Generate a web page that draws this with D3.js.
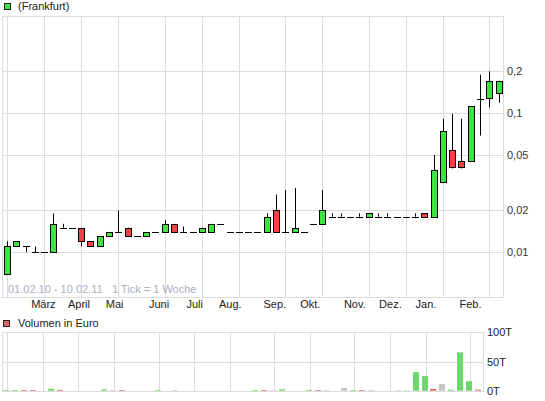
<!DOCTYPE html>
<html lang="de">
<head>
	<meta charset="UTF-8">
	<title>Frankfurt Wochenchart</title>

	<script type="text/javascript" src="https://cdn.jsdelivr.net/npm/d3@7/dist/d3.min.js"></script>

	<style>
		body {
			margin: 0;
			background: #fff;
		}

		svg text {
			font-family: "Liberation Sans", Arial, sans-serif;
			font-size: 11px;
		}
	</style>
</head>
<body>

<div id="viz"></div>

<script type="text/javascript">
	// weekly candles 01.02.10 - 10.02.11, one entry per week
	var open = [0.007, 0.011, 0.011, 0.010, 0.010, 0.010, 0.015, 0.015, 0.015, 0.012,
		0.011, 0.013, 0.014, 0.015, 0.013, 0.013, 0.014, 0.014, 0.016, 0.014,
		0.014, 0.014, 0.014, 0.016, 0.014, 0.014, 0.014, 0.014, 0.014, 0.020,
		0.014, 0.014, 0.014, 0.016, 0.016, 0.018, 0.018, 0.018, 0.018, 0.018,
		0.018, 0.018, 0.018, 0.018, 0.018, 0.019, 0.018, 0.032, 0.054, 0.045,
		0.045, 0.126, 0.128, 0.139];
	var high = [0.012, 0.012, 0.011, 0.011, 0.010, 0.019, 0.016, 0.015, 0.015, 0.012,
		0.013, 0.014, 0.020, 0.015, 0.013, 0.014, 0.014, 0.017, 0.016, 0.0153,
		0.014, 0.015, 0.016, 0.016, 0.014, 0.014, 0.014, 0.014, 0.019, 0.026,
		0.028, 0.029, 0.014, 0.016, 0.028, 0.019, 0.019, 0.018, 0.019, 0.019,
		0.019, 0.019, 0.018, 0.018, 0.019, 0.019, 0.050, 0.091, 0.099, 0.091,
		0.112, 0.189, 0.200, 0.171];
	var low = [0.007, 0.011, 0.010, 0.010, 0.010, 0.010, 0.015, 0.015, 0.011, 0.011,
		0.011, 0.013, 0.014, 0.013, 0.013, 0.013, 0.014, 0.014, 0.014, 0.014,
		0.014, 0.014, 0.014, 0.016, 0.014, 0.014, 0.014, 0.014, 0.014, 0.014,
		0.014, 0.014, 0.014, 0.016, 0.016, 0.018, 0.018, 0.018, 0.018, 0.018,
		0.018, 0.018, 0.018, 0.018, 0.018, 0.018, 0.018, 0.032, 0.040, 0.040,
		0.045, 0.069, 0.110, 0.119];
	var close = [0.011, 0.012, 0.011, 0.010, 0.010, 0.016, 0.015, 0.015, 0.012, 0.011,
		0.013, 0.014, 0.014, 0.013, 0.013, 0.014, 0.014, 0.016, 0.014, 0.014,
		0.014, 0.015, 0.016, 0.016, 0.014, 0.014, 0.014, 0.014, 0.018, 0.014,
		0.014, 0.015, 0.014, 0.016, 0.020, 0.018, 0.018, 0.018, 0.018, 0.019,
		0.018, 0.018, 0.018, 0.018, 0.018, 0.018, 0.039, 0.075, 0.041, 0.041,
		0.112, 0.126, 0.171, 0.169];
	// volume in thousand euro (T)
	var volume = [1.2, 1.2, 1.2, 1.2, 0, 3.4, 1.2, 0, 0, 0,
		0, 2.2, 1, 1.2, 0, 0, 0, 1.2, 0, 1,
		0, 0, 0, 0, 0, 0, 0, 0, 1.2, 1.2,
		1, 2.4, 0, 0, 1.2, 1.2, 1, 0, 4.5, 1.2,
		1.2, 1, 0, 0, 1, 1, 31.7, 24.9, 2.9, 11.4,
		1.7, 65.6, 16.4, 1.8];

	var monthWeeks = [4, 8, 12, 17, 21, 25, 30, 34, 39, 43, 47, 52];
	var monthLabels = ['März', 'April', 'Mai', 'Juni', 'Juli', 'Aug.', 'Sep.', 'Okt.', 'Nov.', 'Dez.', 'Jan.', 'Feb.'];
	var priceTicks = [0.01, 0.02, 0.05, 0.1, 0.2];
	var volTicks = [0, 50, 100];
	var volTickLabels = ['0T', '50T', '100T'];
	var legendPrice = '(Frankfurt)';
	var legendVolume = 'Volumen in Euro';
	var rangeText = ['01.02.10 - 10.02.11', '1 Tick = 1 Woche'];

	var green = '#3fe23f',
		red = '#ef4343',
		volGreen = '#6ad86a',
		volRed = '#dd6464',
		volGray = '#c4c4c4',
		gridColor = '#dcdcdc';

	// one row per week, built from the arrays above
	var weeks = close.map(function (c, i) {
		var prev = i > 0 ? close[i - 1] : open[i];
		return {
			i: i, o: open[i], h: high[i], l: low[i], c: c, v: volume[i],
			dir: c > prev ? 1 : (c < prev ? -1 : 0)
		};
	});

	var svg = d3.select('#viz')
		.append('svg')
		.attr('width', 545)
		.attr('height', 401);

	// ---- price panel ----
	var plot = {left: 2, right: 503, top: 16, bottom: 297};

	var x = d3.scaleLinear()
		.domain([0, 52])
		.range([7, 489.3]);

	var y = d3.scaleLog()
		.domain([0.00476, 0.5])
		.range([plot.bottom, plot.top]);

	var g = svg.append('g');

	g.append('rect')
		.attr('x', plot.left + 0.5)
		.attr('y', plot.top + 0.5)
		.attr('width', plot.right - plot.left)
		.attr('height', plot.bottom - plot.top)
		.attr('fill', 'none')
		.attr('stroke', gridColor);

	// vertical grid, first week of each month
	g.selectAll('.vgrid')
		.data([0].concat(monthWeeks))
		.enter().append('line')
		.attr('class', 'vgrid')
		.attr('x1', function (d) { return Math.round(x(d)) + 0.5; })
		.attr('x2', function (d) { return Math.round(x(d)) + 0.5; })
		.attr('y1', plot.top)
		.attr('y2', plot.bottom)
		.attr('stroke', gridColor);

	g.selectAll('.hgrid')
		.data(priceTicks)
		.enter().append('line')
		.attr('class', 'hgrid')
		.attr('x1', plot.left)
		.attr('x2', plot.right)
		.attr('y1', function (d) { return Math.round(y(d)) + 0.5; })
		.attr('y2', function (d) { return Math.round(y(d)) + 0.5; })
		.attr('stroke', gridColor);

	var yAxis = d3.axisRight(y)
		.tickValues(priceTicks)
		.tickSize(0)
		.tickPadding(4)
		.tickFormat(function (d) { return String(d).replace('.', ','); });

	var gy = g.append('g')
		.attr('transform', 'translate(' + plot.right + ',0)')
		.call(yAxis);
	gy.select('.domain').remove();
	gy.selectAll('text')
		.attr('fill', '#333')
		.style('font-size', '11px');

	// date range note
	g.selectAll('.range')
		.data(rangeText)
		.enter().append('text')
		.attr('class', 'range')
		.attr('x', function (d, i) { return i === 0 ? 8 : 112; })
		.attr('y', 293)
		.attr('fill', '#a7afbe')
		.text(function (d) { return d; });

	// candles
	var candles = g.selectAll('.candle')
		.data(weeks)
		.enter().append('g')
		.attr('class', 'candle')
		.attr('transform', function (d) { return 'translate(' + (Math.round(x(d.i)) + 0.5) + ',0)'; });

	candles.append('line')
		.attr('y1', function (d) { return y(d.h); })
		.attr('y2', function (d) { return y(d.l); })
		.attr('stroke', '#000');

	// unchanged weeks get a dash
	candles.filter(function (d) { return d.o === d.c; })
		.append('line')
		.attr('x1', -3.5)
		.attr('x2', 3.5)
		.attr('y1', function (d) { return Math.round(y(d.o)) + 0.5; })
		.attr('y2', function (d) { return Math.round(y(d.o)) + 0.5; })
		.attr('stroke', '#000');

	candles.filter(function (d) { return d.o !== d.c; })
		.append('rect')
		.attr('x', -3)
		.attr('width', 6)
		.attr('y', function (d) { return Math.round(y(Math.max(d.o, d.c))) + 0.5; })
		.attr('height', function (d) {
			return Math.round(y(Math.min(d.o, d.c))) - Math.round(y(Math.max(d.o, d.c)));
		})
		.attr('fill', function (d) { return d.c > d.o ? green : red; })
		.attr('stroke', '#000');

	// legend
	g.append('rect')
		.attr('x', 4.5).attr('y', 3.5)
		.attr('width', 6).attr('height', 6)
		.attr('fill', green).attr('stroke', '#222');
	g.append('text')
		.attr('x', 18).attr('y', 10)
		.attr('fill', '#222')
		.text(legendPrice);

	// month labels sit on the volume panel grid
	var vx = d3.scaleLinear()
		.domain([0, 52])
		.range([7.3, 470]);

	var xAxis = d3.axisBottom(vx)
		.tickValues(monthWeeks)
		.tickSize(0)
		.tickPadding(3.5)
		.tickFormat(function (d, i) { return monthLabels[i]; });

	var gx = svg.append('g')
		.attr('transform', 'translate(0,' + plot.bottom + ')')
		.call(xAxis);
	gx.select('.domain').remove();
	gx.selectAll('text')
		.attr('fill', '#222')
		.style('font-size', '11px');

	// ---- volume panel ----
	var vplot = {left: 2, right: 483, top: 332, bottom: 391};

	var vy = d3.scaleLinear()
		.domain([0, 100])
		.range([vplot.bottom - 0.3, vplot.top + 0.3]);

	var vg = svg.append('g');

	vg.append('rect')
		.attr('x', vplot.left + 0.5)
		.attr('y', vplot.top + 0.5)
		.attr('width', vplot.right - vplot.left)
		.attr('height', vplot.bottom - vplot.top)
		.attr('fill', 'none')
		.attr('stroke', gridColor);

	vg.selectAll('.vvgrid')
		.data([0].concat(monthWeeks))
		.enter().append('line')
		.attr('class', 'vvgrid')
		.attr('x1', function (d) { return Math.round(vx(d)) + 0.5; })
		.attr('x2', function (d) { return Math.round(vx(d)) + 0.5; })
		.attr('y1', vplot.top)
		.attr('y2', vplot.bottom)
		.attr('stroke', gridColor);

	vg.selectAll('.vhgrid')
		.data(volTicks)
		.enter().append('line')
		.attr('class', 'vhgrid')
		.attr('x1', vplot.left)
		.attr('x2', vplot.right)
		.attr('y1', function (d) { return Math.round(vy(d)) + 0.5; })
		.attr('y2', function (d) { return Math.round(vy(d)) + 0.5; })
		.attr('stroke', gridColor);

	vg.selectAll('.vbar')
		.data(weeks.filter(function (d) { return d.v > 0; }))
		.enter().append('rect')
		.attr('class', 'vbar')
		.attr('x', function (d) { return Math.round(vx(d.i)) - 4; })
		.attr('width', 6)
		.attr('y', function (d) { return vy(d.v); })
		.attr('height', function (d) { return vy(0) - vy(d.v); })
		.attr('fill', function (d) { return d.dir > 0 ? volGreen : (d.dir < 0 ? volRed : volGray); });

	var vAxis = d3.axisRight(vy)
		.tickValues(volTicks)
		.tickSize(0)
		.tickPadding(4)
		.tickFormat(function (d, i) { return volTickLabels[i]; });

	var gv = vg.append('g')
		.attr('transform', 'translate(' + vplot.right + ',0)')
		.call(vAxis);
	gv.select('.domain').remove();
	gv.selectAll('text')
		.attr('fill', '#222')
		.style('font-size', '11px');

	vg.append('rect')
		.attr('x', 3.5).attr('y', 320.5)
		.attr('width', 6).attr('height', 6)
		.attr('fill', volRed).attr('stroke', '#222');
	vg.append('text')
		.attr('x', 18).attr('y', 327)
		.attr('fill', '#222')
		.text(legendVolume);
</script>
</body>
</html>
